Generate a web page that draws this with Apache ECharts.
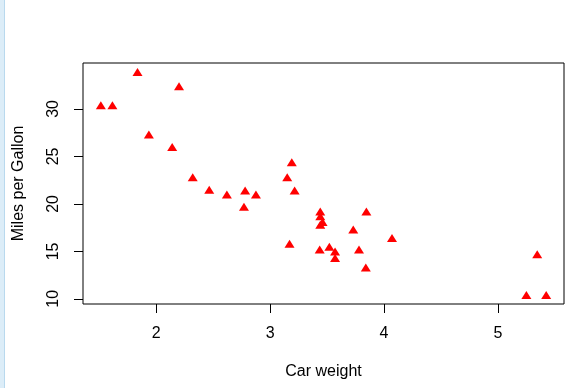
<!DOCTYPE html>
<html><head><meta charset="utf-8">
<script src="https://cdn.jsdelivr.net/npm/echarts@6/dist/echarts.min.js"></script>
<style>
html,body{margin:0;padding:0;background:#fff;}
#strip{position:absolute;left:0;top:0;width:4px;height:388px;background:#dcedf8;border-right:1px solid #b9d9ee;}
#c{position:absolute;left:0;top:0;width:580px;height:388px;}
</style></head>
<body><div id="c"></div><div id="strip"></div>
<script>
const carWeight = [2.620,2.875,2.320,3.215,3.440,3.460,3.570,3.190,3.150,3.440,3.440,4.070,3.730,3.780,5.250,5.424,5.345,2.200,1.615,1.835,2.465,3.520,3.435,3.840,3.845,1.935,2.140,1.513,3.170,2.770,3.570,2.780];
const milesPerGallon = [21.0,21.0,22.8,21.4,18.7,18.1,14.3,24.4,22.8,19.2,17.8,16.4,17.3,15.2,10.4,10.4,14.7,32.4,30.4,33.9,21.5,15.5,15.2,13.3,19.2,27.3,26.0,30.4,15.8,19.7,15.0,21.4];
const xTicks = [2,3,4,5];
const yTicks = [10,15,20,25,30];

const chart = echarts.init(document.getElementById('c'));
const font = 'Liberation Sans, Arial, sans-serif';
function ext(arr){const mn=Math.min(...arr),mx=Math.max(...arr),d=(mx-mn)*0.04;return [mn-d,mx+d];}
const xr = ext(carWeight), yr = ext(milesPerGallon);
chart.setOption({
  animation:false,
  grid:{left:83,right:16,top:63,bottom:84,show:true,borderColor:'#000',borderWidth:1,backgroundColor:'transparent'},
  xAxis:{type:'value',min:xr[0],max:xr[1],
    name:'Car weight',nameLocation:'middle',nameGap:60,
    nameTextStyle:{fontFamily:font,fontSize:16,color:'#000'},
    axisLine:{show:false},splitLine:{show:false},
    axisTick:{show:true,inside:false,length:9,lineStyle:{color:'#000'},customValues:xTicks},
    axisLabel:{fontFamily:font,fontSize:16,color:'#000',margin:22,customValues:xTicks}},
  yAxis:{type:'value',min:yr[0],max:yr[1],
    name:'Miles per Gallon',nameLocation:'middle',nameGap:56,nameRotate:90,
    nameTextStyle:{fontFamily:font,fontSize:16,color:'#000'},
    axisLine:{show:false},splitLine:{show:false},
    axisTick:{show:true,inside:false,length:9,lineStyle:{color:'#000'},customValues:yTicks},
    axisLabel:{fontFamily:font,fontSize:16,color:'#000',margin:21,rotate:90,customValues:yTicks}},
  series:[{type:'scatter',symbol:'triangle',symbolSize:[10,8],
    itemStyle:{color:'#ff0000',opacity:1},
    data:carWeight.map((w,i)=>[w,milesPerGallon[i]])}]
});
</script></body></html>
